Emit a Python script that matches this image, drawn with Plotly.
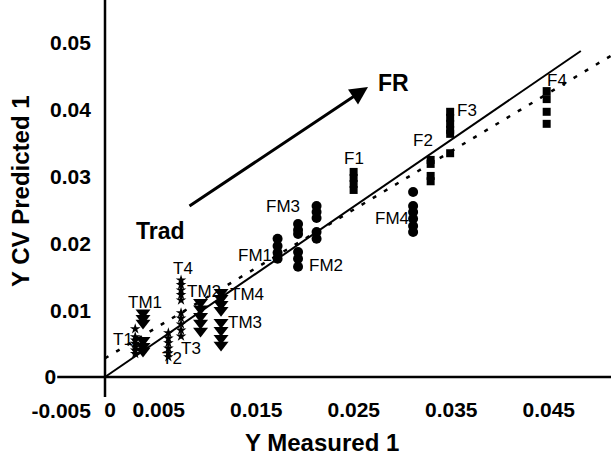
import plotly.graph_objects as go

# ---- data ----
T1_x = [0.0031] * 7
T1_y = [0.0072, 0.0060, 0.0055, 0.0050, 0.0045, 0.0040, 0.0035]
T2_x = [0.0065] * 6
T2_y = [0.0066, 0.0058, 0.0051, 0.0043, 0.0036, 0.0030]
T3_x = [0.0078] * 5
T3_y = [0.0096, 0.0088, 0.0079, 0.0070, 0.0061]
T4_x = [0.0078] * 5
T4_y = [0.0145, 0.0138, 0.0130, 0.0123, 0.0115]

TM1_x = [0.0039] * 6
TM1_y = [0.0096, 0.0088, 0.0081, 0.0055, 0.0046, 0.0039]
TM2_x = [0.0098] * 5
TM2_y = [0.0112, 0.0102, 0.0091, 0.0081, 0.0069]
TM3_x = [0.0119] * 4
TM3_y = [0.0082, 0.0070, 0.0058, 0.0048]
TM4_x = [0.0119] * 4
TM4_y = [0.0127, 0.0118, 0.0109, 0.0100]

FM1_x = [0.0177] * 4
FM1_y = [0.0207, 0.0196, 0.0186, 0.0177]
FM2_x = [0.0198] * 3
FM2_y = [0.0187, 0.0177, 0.0165]
FM3_x = [0.0198, 0.0198, 0.0198, 0.0217, 0.0217, 0.0217, 0.0217, 0.0217]
FM3_y = [0.0229, 0.0220, 0.0214, 0.0256, 0.0247, 0.0238, 0.0217, 0.0207]
FM4_x = [0.0316] * 6
FM4_y = [0.0277, 0.0256, 0.0247, 0.0237, 0.0226, 0.0217]

F1_x = [0.0255] * 4
F1_y = [0.0307, 0.0298, 0.0289, 0.0280]
F2_x = [0.0334] * 4
F2_y = [0.0325, 0.0319, 0.0301, 0.0293]
F3_x = [0.0354] * 6
F3_y = [0.0397, 0.0388, 0.0379, 0.0370, 0.0364, 0.0335]
F4_x = [0.0453] * 4
F4_y = [0.0428, 0.0416, 0.0397, 0.0379]

ideal_x = [0.0, 0.0488]
ideal_y = [0.0, 0.0488]
fit_x = [0.0, 0.0519]
fit_y = [0.0028, 0.0481]

x_tickvals = [0, 0.005, 0.015, 0.025, 0.035, 0.045]
x_ticktext = ["0", "0.005", "0.015", "0.025", "0.035", "0.045"]
y_tickvals = [-0.005, 0.01, 0.02, 0.03, 0.04, 0.05]
y_ticktext = ["-0.005", "0.01", "0.02", "0.03", "0.04", "0.05"]

# ---- geometry ----
W, H = 611, 456
XMIN, XMAX = -0.010769, 0.051897
YMIN, YMAX = -0.011826, 0.056437


def xfrac(v):
    return (v - XMIN) / (XMAX - XMIN)


def yfrac(v):
    return (v - YMIN) / (YMAX - YMIN)


def px2x(px):
    return XMIN + px / W * (XMAX - XMIN)


def py2y(py):
    return YMAX - py / H * (YMAX - YMIN)


FONT = "Liberation Sans, Arial, sans-serif"
fig = go.Figure()

# axis lines
fig.add_trace(go.Scatter(x=[-0.0049, XMAX], y=[0, 0], mode="lines",
                         line=dict(color="black", width=2.5), yaxis="y2",
                         hoverinfo="skip", showlegend=False))
fig.add_trace(go.Scatter(x=[0, 0], y=[-0.003, YMAX], mode="lines",
                         line=dict(color="black", width=2.5),
                         hoverinfo="skip", showlegend=False))

# reference lines
fig.add_trace(go.Scatter(x=ideal_x, y=ideal_y, mode="lines",
                         line=dict(color="black", width=2), showlegend=False))
fig.add_trace(go.Scatter(x=fit_x, y=fit_y, mode="lines",
                         line=dict(color="black", width=2.5, dash="4px,9px"),
                         showlegend=False))

groups = [
    ("T1", T1_x, T1_y, "star", 8),
    ("T2", T2_x, T2_y, "star", 8),
    ("T3", T3_x, T3_y, "star", 8),
    ("T4", T4_x, T4_y, "star", 8),
    ("TM1", TM1_x, TM1_y, "triangle-down", 13),
    ("TM2", TM2_x, TM2_y, "triangle-down", 13),
    ("TM3", TM3_x, TM3_y, "triangle-down", 13),
    ("TM4", TM4_x, TM4_y, "triangle-down", 13),
    ("FM1", FM1_x, FM1_y, "circle", 10),
    ("FM2", FM2_x, FM2_y, "circle", 10),
    ("FM3", FM3_x, FM3_y, "circle", 10),
    ("FM4", FM4_x, FM4_y, "circle", 10),
    ("F1", F1_x, F1_y, "square", 8),
    ("F2", F2_x, F2_y, "square", 8),
    ("F3", F3_x, F3_y, "square", 8),
    ("F4", F4_x, F4_y, "square", 8),
]
for name, gx, gy, sym, sz in groups:
    fig.add_trace(go.Scatter(x=gx, y=gy, mode="markers", name=name,
                             marker=dict(symbol=sym, size=sz, color="black",
                                         line=dict(width=0)),
                             showlegend=False))

labels = [
    ("T1", 123, 339), ("TM1", 145, 302), ("T2", 172, 358), ("T3", 191, 348),
    ("T4", 183, 268), ("TM2", 204, 291), ("TM4", 247, 294), ("TM3", 245, 322),
    ("FM1", 255, 255), ("FM2", 326, 265), ("FM3", 283, 206), ("FM4", 392, 218),
    ("F1", 354, 158), ("F2", 423, 140), ("F3", 467, 110), ("F4", 557, 80),
]
annotations = []
for txt, px, py in labels:
    annotations.append(dict(x=px2x(px), y=py2y(py), text=txt, showarrow=False,
                            font=dict(family=FONT, size=17, color="black"),
                            xanchor="center", yanchor="middle"))

annotations += [
    dict(x=px2x(160), y=py2y(231), text="<b>Trad</b>", showarrow=False,
         font=dict(family=FONT, size=23, color="black")),
    dict(x=px2x(393), y=py2y(83), text="<b>FR</b>", showarrow=False,
         font=dict(family=FONT, size=23, color="black")),
    dict(x=px2x(368), y=py2y(87), ax=px2x(188), ay=py2y(207),
         axref="x", ayref="y", xref="x", yref="y", text="", showarrow=True,
         arrowhead=2, arrowsize=1.2, arrowwidth=3, arrowcolor="black"),
    dict(x=px2x(322), y=py2y(442), text="<b>Y Measured 1</b>", showarrow=False,
         font=dict(family=FONT, size=24, color="black")),
    dict(x=px2x(20), y=py2y(191), text="<b>Y CV Predicted 1</b>", showarrow=False,
         textangle=-90, font=dict(family=FONT, size=24, color="black")),
]

tickfont = dict(family=FONT, size=21, color="black", weight="bold")
fig.update_layout(
    width=W, height=H,
    margin=dict(l=0, r=0, t=0, b=0),
    paper_bgcolor="white", plot_bgcolor="white",
    xaxis=dict(range=[XMIN, XMAX], anchor="free", position=yfrac(0),
               tickmode="array", tickvals=x_tickvals, ticktext=x_ticktext,
               ticks="", showgrid=False, zeroline=False, showline=False,
               tickfont=tickfont, ticklabelstandoff=18, ticklabelshift=5),
    yaxis=dict(range=[YMIN, YMAX], anchor="free", position=xfrac(0),
               tickmode="array", tickvals=y_tickvals, ticktext=y_ticktext,
               ticks="", showgrid=False, zeroline=False, showline=False,
               tickfont=tickfont, ticklabelstandoff=14),
    yaxis2=dict(range=[YMIN, YMAX], overlaying="y", anchor="free",
                position=xfrac(-0.0050), side="left",
                tickmode="array", tickvals=[0], ticktext=["0"],
                ticks="", showgrid=False, zeroline=False, showline=False,
                tickfont=tickfont, ticklabelstandoff=0),
    annotations=annotations,
    showlegend=False,
)

fig.write_html("out.html", config={"displayModeBar": False},
               post_script="document.body.style.margin='0';"
                           "document.body.style.overflow='hidden';")
